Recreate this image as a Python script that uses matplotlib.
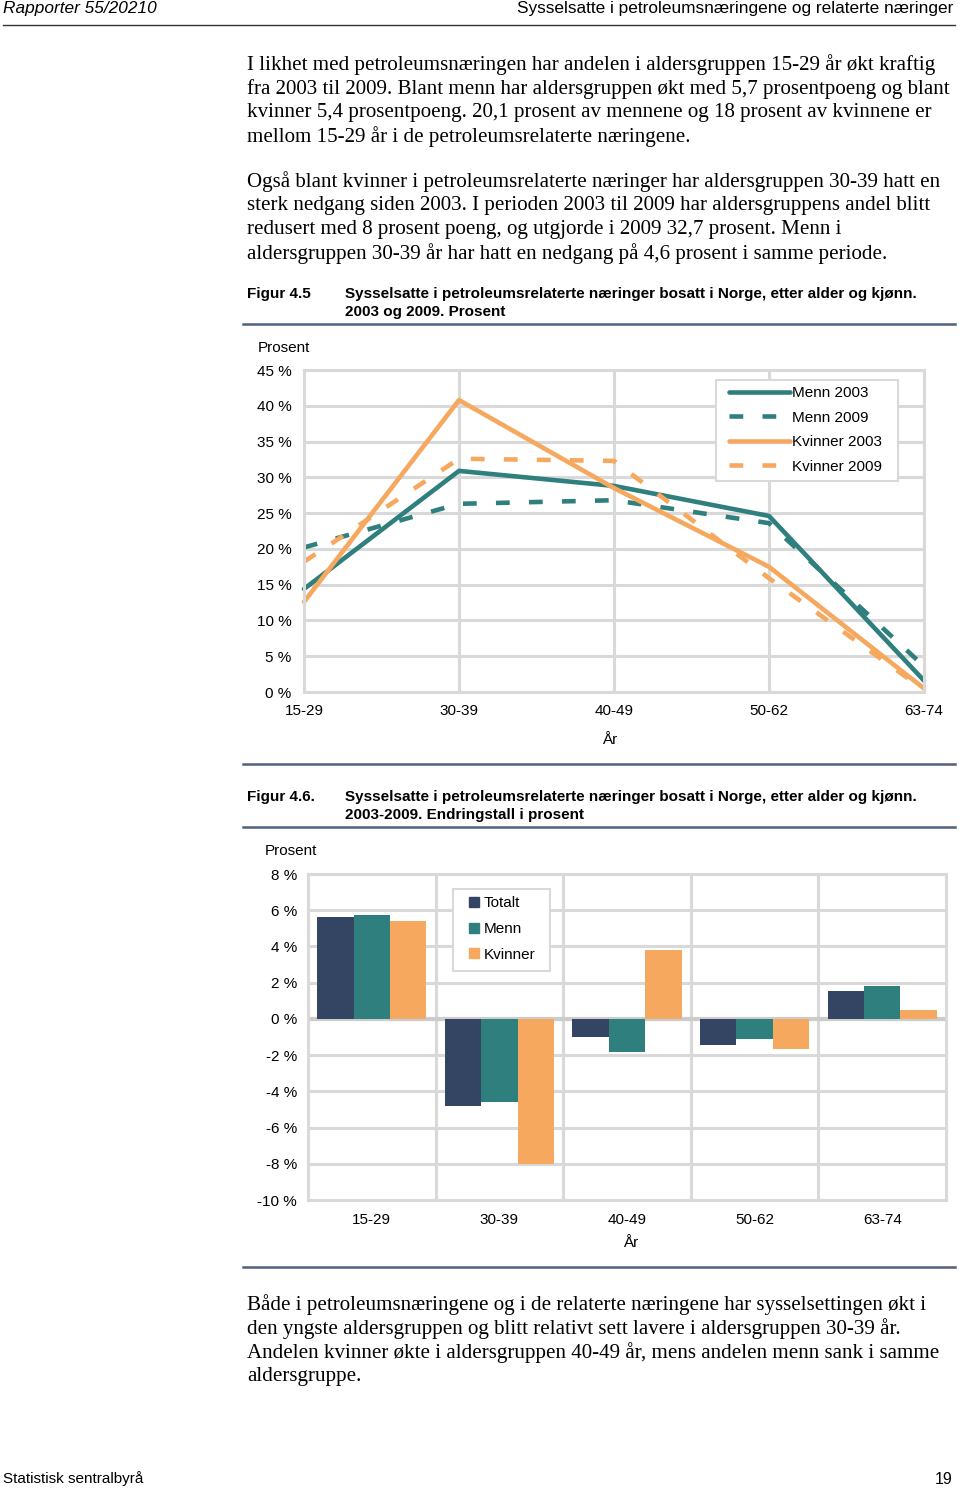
import matplotlib

matplotlib.use("Agg")
import matplotlib.pyplot as plt
from matplotlib.lines import Line2D
from matplotlib.patches import Rectangle

# data for figur 4.5 (andel i prosent)
age_groups = ["15-29", "30-39", "40-49", "50-62", "63-74"]
menn_2003 = [14.4, 30.9, 28.8, 24.6, 1.6]
menn_2009 = [20.2, 26.3, 26.8, 23.6, 3.6]
kvinner_2003 = [12.6, 40.8, 28.5, 17.5, 0.5]
kvinner_2009 = [18.2, 32.6, 32.3, 15.9, 0.3]
line_ticks = [0, 5, 10, 15, 20, 25, 30, 35, 40, 45]

# data for figur 4.6 (endring 2003-2009, prosentpoeng)
totalt_change = [5.6, -4.8, -1.0, -1.45, 1.55]
menn_change = [5.75, -4.6, -1.85, -1.1, 1.8]
kvinner_change = [5.4, -8.0, 3.8, -1.65, 0.5]
bar_ticks = [-10, -8, -6, -4, -2, 0, 2, 4, 6, 8]

TEAL = "#2f7f7e"
ORANGE = "#f5a85e"
NAVY = "#344563"
GRID = "#d9d9d9"
RULE = "#4f6080"
SANS = "Liberation Sans"
SERIF = "Liberation Serif"
FS = 11

W, H = 960, 1489


def fx(x):
    return x / W


def fy(y):
    return 1 - y / H


def axes_box(left, top, right, bottom):
    return [fx(left), fy(bottom), (right - left) / W, (bottom - top) / H]


def hrule(fig, y, x0, x1, color, lw):
    fig.add_artist(Line2D([fx(x0), fx(x1)], [fy(y), fy(y)], color=color, lw=lw,
                          transform=fig.transFigure))


def legend_frame(ax, left, top, right, bottom):
    # the legend box is drawn by hand: its padding is not even on all sides
    box = Rectangle((fx(left), fy(bottom)), (right - left) / W, (bottom - top) / H,
                    transform=ax.figure.transFigure, facecolor="white",
                    edgecolor=GRID, lw=1.5, zorder=4, clip_on=False)
    ax.add_artist(box)


def paragraph(fig, lines, y0, step=23.7):
    for i, line in enumerate(lines):
        fig.text(fx(247), fy(y0 + i * step), line, family=SERIF, fontsize=15.1,
                 va="center", ha="left")


def style_grid(ax):
    for side in ["top", "bottom", "left", "right"]:
        ax.spines[side].set_color(GRID)
        ax.spines[side].set_linewidth(2.2)
    ax.grid(True, color=GRID, lw=2.2)
    ax.set_axisbelow(True)
    ax.tick_params(length=0, labelsize=FS)
    for lab in ax.get_xticklabels() + ax.get_yticklabels():
        lab.set_family(SANS)


fig = plt.figure(figsize=(W / 100, H / 100), dpi=100)

# page header / footer
fig.text(fx(3), fy(9), "Rapporter 55/20210", family=SANS, style="italic",
         fontsize=12.4, va="center")
fig.text(fx(953), fy(9), "Sysselsatte i petroleumsnæringene og relaterte næringer",
         family=SANS, fontsize=12.4, va="center", ha="right")
hrule(fig, 25, 3, 955, "#333333", 1.0)
fig.text(fx(3), fy(1479), "Statistisk sentralbyrå", family=SANS, fontsize=11, va="center")
fig.text(fx(953), fy(1479), "19", family=SANS, fontsize=11.5, va="center", ha="right")

paragraph(fig, [
    "I likhet med petroleumsnæringen har andelen i aldersgruppen 15-29 år økt kraftig",
    "fra 2003 til 2009. Blant menn har aldersgruppen økt med 5,7 prosentpoeng og blant",
    "kvinner 5,4 prosentpoeng. 20,1 prosent av mennene og 18 prosent av kvinnene er",
    "mellom 15-29 år i de petroleumsrelaterte næringene.",
], 65)
paragraph(fig, [
    "Også blant kvinner i petroleumsrelaterte næringer har aldersgruppen 30-39 hatt en",
    "sterk nedgang siden 2003. I perioden 2003 til 2009 har aldersgruppens andel blitt",
    "redusert med 8 prosent poeng, og utgjorde i 2009 32,7 prosent. Menn i",
    "aldersgruppen 30-39 år har hatt en nedgang på 4,6 prosent i samme periode.",
], 182)
paragraph(fig, [
    "Både i petroleumsnæringene og i de relaterte næringene har sysselsettingen økt i",
    "den yngste aldersgruppen og blitt relativt sett lavere i aldersgruppen 30-39 år.",
    "Andelen kvinner økte i aldersgruppen 40-49 år, mens andelen menn sank i samme",
    "aldersgruppe.",
], 1305)

# figure captions
for num, y0, second in [("Figur 4.5", 294, "2003 og 2009. Prosent"),
                        ("Figur 4.6.", 797, "2003-2009. Endringstall i prosent")]:
    fig.text(fx(247), fy(y0), num, family=SANS, weight="bold", fontsize=11, va="center")
    fig.text(fx(345), fy(y0),
             "Sysselsatte i petroleumsrelaterte næringer bosatt i Norge, etter alder og kjønn.",
             family=SANS, weight="bold", fontsize=11, va="center")
    fig.text(fx(345), fy(y0 + 18), second, family=SANS, weight="bold", fontsize=11,
             va="center")
for y in [324, 764, 827, 1267]:
    hrule(fig, y, 243, 955, RULE, 1.8)

# figur 4.5: line chart
ax1 = fig.add_axes(axes_box(304, 370, 924, 692))
x = list(range(len(age_groups)))
line_kw = dict(lw=3.3, clip_on=False, solid_capstyle="round", dash_capstyle="butt")
ax1.plot(x, menn_2003, color=TEAL, label="Menn 2003", **line_kw)
ax1.plot(x, menn_2009, color=TEAL, dashes=(3.0, 4.2), label="Menn 2009", **line_kw)
ax1.plot(x, kvinner_2003, color=ORANGE, label="Kvinner 2003", **line_kw)
ax1.plot(x, kvinner_2009, color=ORANGE, dashes=(3.0, 4.2), label="Kvinner 2009", **line_kw)
ax1.set_xlim(0, 4)
ax1.set_ylim(0, 45)
ax1.set_xticks(x)
ax1.set_xticklabels(age_groups)
ax1.set_yticks(line_ticks)
ax1.set_yticklabels([f"{t} %" for t in line_ticks])
style_grid(ax1)
ax1.tick_params(axis="y", pad=9)
ax1.tick_params(axis="x", pad=8.5)
fig.text(fx(258), fy(348), "Prosent", family=SANS, fontsize=FS, va="center")
fig.text(fx(610), fy(740), "År", family=SANS, fontsize=FS, va="center", ha="center")
legend_frame(ax1, 716, 380, 898, 481)
leg1 = ax1.legend(loc="upper left", bbox_to_anchor=(fx(729), fy(386)),
                  bbox_transform=fig.transFigure, frameon=False,
                  handlelength=4.0, handletextpad=0.1, labelspacing=0.69,
                  borderpad=0, borderaxespad=0,
                  prop={"family": SANS, "size": FS})

# figur 4.6: grouped bars
ax2 = fig.add_axes(axes_box(308, 874, 946, 1200))
width = 0.285
ax2.bar([i - width for i in x], totalt_change, width, color=NAVY, label="Totalt", zorder=3)
ax2.bar(x, menn_change, width, color=TEAL, label="Menn", zorder=3)
ax2.bar([i + width for i in x], kvinner_change, width, color=ORANGE, label="Kvinner",
        zorder=3)
ax2.set_xlim(-0.5, 4.5)
ax2.set_ylim(-10, 8)
ax2.set_xticks(x)
ax2.set_xticklabels(age_groups)
ax2.set_xticks([i + 0.5 for i in x[:-1]], minor=True)
ax2.set_yticks(bar_ticks)
ax2.set_yticklabels([f"{t} %" for t in bar_ticks])
style_grid(ax2)
ax2.grid(False, axis="x", which="major")
ax2.grid(True, axis="x", which="minor", color=GRID, lw=2.2)
ax2.tick_params(which="minor", length=0)
ax2.axhline(0, color="#cccccc", lw=3, zorder=2)
ax2.tick_params(axis="y", pad=8)
ax2.tick_params(axis="x", pad=9)
fig.text(fx(265), fy(851), "Prosent", family=SANS, fontsize=FS, va="center")
fig.text(fx(631), fy(1243), "År", family=SANS, fontsize=FS, va="center", ha="center")
legend_frame(ax2, 453, 889, 550, 971)
bar_handles = [Line2D([], [], ls="none", marker="s", markersize=7.6, color=c)
               for c in (NAVY, TEAL, ORANGE)]
leg2 = ax2.legend(bar_handles, ["Totalt", "Menn", "Kvinner"], loc="upper left",
                  bbox_to_anchor=(fx(468), fy(896)),
                  bbox_transform=fig.transFigure, frameon=False,
                  handlelength=0.8, handletextpad=0.2,
                  labelspacing=0.78, borderpad=0, borderaxespad=0,
                  prop={"family": SANS, "size": FS})

fig.savefig("out.png", dpi=100)
